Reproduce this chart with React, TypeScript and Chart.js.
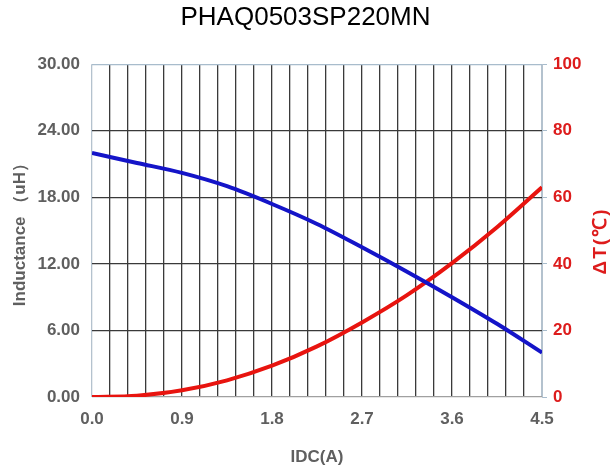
import React, { useEffect, useRef } from "react";
import { Chart, registerables } from "chart.js";

Chart.register(...registerables);

const TITLE = "PHAQ0503SP220MN";
const currentA = [0, 0.45, 0.9, 1.35, 1.8, 2.25, 2.7, 3.15, 3.6, 4.05, 4.5];
const inductanceUH = [22.0, 21.1, 20.2, 19.0, 17.4, 15.6, 13.5, 11.3, 9.0, 6.6, 4.0];
const tempRiseC = [0, 0.4, 2.0, 5.0, 9.4, 15.2, 22.4, 30.6, 40.2, 51.0, 63.0];
const X_LABEL = "IDC(A)";
const Y_LABEL = "Inductance （uH）";
const Y1_LABEL = "ΔT(℃)";

const GRAY = "#5f5f5f";
const RED = "#dd1c1c";
const FONT = "Arial, 'Liberation Sans', sans-serif";

export default function App() {
  const ref = useRef<HTMLCanvasElement | null>(null);
  useEffect(() => {
    document.body.style.margin = "0";
    const canvas = ref.current;
    if (!canvas) return;
    const rightTitle = {
      id: "rightTitle",
      afterDraw(chart: any) {
        const c = chart.ctx;
        c.save();
        c.translate(601, 241);
        c.rotate(-Math.PI / 2);
        c.fillStyle = RED;
        c.font = `bold 19px ${FONT}`;
        try {
          (c as any).letterSpacing = "2px";
        } catch (e) {}
        c.textAlign = "center";
        c.textBaseline = "middle";
        c.fillText(Y1_LABEL, 0, 0);
        c.restore();
      },
    };
    const chart = new Chart(canvas, {
      type: "line",
      data: {
        datasets: [
          {
            label: "L",
            data: currentA.map((x, i) => ({ x, y: inductanceUH[i] })),
            borderColor: "#1414c8",
            borderWidth: 4,
            pointRadius: 0,
            cubicInterpolationMode: "monotone",
            yAxisID: "y",
          },
          {
            label: "T",
            data: currentA.map((x, i) => ({ x, y: tempRiseC[i] })),
            borderColor: "#e8140f",
            borderWidth: 4,
            pointRadius: 0,
            cubicInterpolationMode: "monotone",
            yAxisID: "y1",
          },
        ],
      },
      options: {
        responsive: false,
        animation: false,
        layout: { padding: 0 },
        plugins: {
          legend: { display: false },
          tooltip: { enabled: false },
          title: {
            display: true,
            text: TITLE,
            color: "#000",
            font: { family: FONT, size: 26, weight: "normal", lineHeight: 1.2 },
            padding: { top: 2, bottom: 31 },
          },
        },
        scales: {
          x: {
            type: "linear",
            min: 0,
            max: 4.5,
            afterFit: (s: any) => {
              s.height = 69;
            },
            ticks: {
              stepSize: 0.18,
              autoSkip: false,
              maxRotation: 0,
              color: GRAY,
              padding: 12,
              font: { family: FONT, size: 17, weight: "bold" },
              callback: (v: any) => {
                const n = Number(v);
                const r = n / 0.9;
                return Math.abs(r - Math.round(r)) < 1e-6 ? n.toFixed(1) : "";
              },
            },
            grid: {
              drawTicks: false,
              lineWidth: 1.3,
              color: (ctx: any) => {
                const v = ctx.tick ? ctx.tick.value : 0;
                return Math.abs(v) < 1e-6 || Math.abs(v - 4.5) < 1e-6 ? "#b4c2ce" : "#3a3a3a";
              },
            },
            border: { display: false },
            title: {
              display: true,
              text: X_LABEL,
              color: GRAY,
              font: { family: FONT, size: 17, weight: "bold", lineHeight: 1 },
              padding: { top: 0, bottom: 0 },
            },
          },
          y: {
            position: "left",
            min: 0,
            max: 30,
            afterFit: (s: any) => {
              s.width = 92;
            },
            ticks: {
              stepSize: 6,
              color: GRAY,
              padding: 12,
              font: { family: FONT, size: 17, weight: "bold" },
              callback: (v: any) => Number(v).toFixed(2),
            },
            grid: {
              drawTicks: false,
              lineWidth: 1.3,
              color: (ctx: any) => {
                const v = ctx.tick ? ctx.tick.value : 0;
                if (Math.abs(v - 30) < 1e-6) return "#a8bccc";
                if (Math.abs(v) < 1e-6) return "#a0a0a0";
                return "#3a3a3a";
              },
            },
            border: { display: false },
            title: {
              display: true,
              text: Y_LABEL,
              color: GRAY,
              font: { family: FONT, size: 17, weight: "bold", lineHeight: 1.2 },
              padding: { top: 10, bottom: 0 },
            },
          },
          y1: {
            position: "right",
            min: 0,
            max: 100,
            afterFit: (s: any) => {
              s.width = 69;
            },
            ticks: {
              stepSize: 20,
              color: RED,
              padding: 6,
              font: { family: FONT, size: 17, weight: "bold" },
            },
            grid: {
              drawOnChartArea: false,
              drawTicks: true,
              tickLength: 5,
              color: "#a8bccc",
            },
            border: { display: true, color: "#b4c2ce" },
          },
        },
      },
      plugins: [rightTitle],
    });
    return () => chart.destroy();
  }, []);
  return (
    <div style={{ width: 611, height: 466 }}>
      <canvas ref={ref} width={611} height={466} style={{ display: "block" }} />
    </div>
  );
}
